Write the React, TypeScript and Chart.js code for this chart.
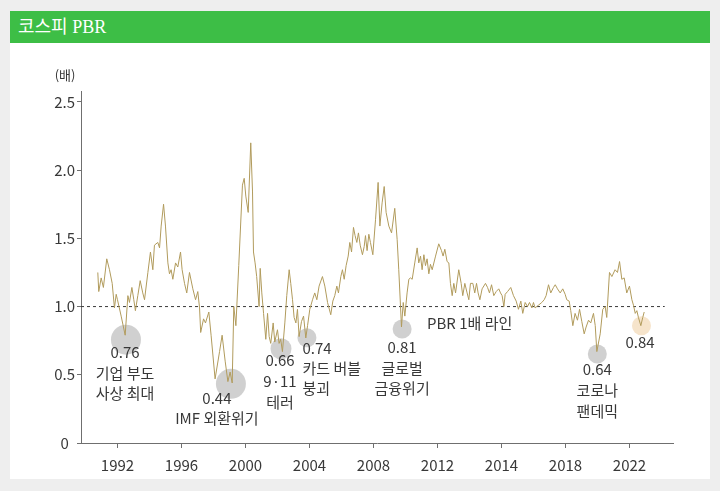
import React, { useEffect, useRef } from "react";
import { Chart, registerables } from "chart.js";

Chart.register(...registerables);

// ---- data (x in axis-years as laid out on the chart's time axis) ----
const years = [
  1990.77, 1990.83, 1990.98, 1991.12, 1991.33, 1991.5, 1991.67, 1991.81, 1991.92, 1992.0,
  1992.23, 1992.48, 1992.65, 1992.75, 1992.9, 1993.02, 1993.12, 1993.27, 1993.42, 1993.58,
  1993.69, 1993.9, 1994.06, 1994.21, 1994.31, 1994.52, 1994.63, 1994.73, 1994.88, 1995.0,
  1995.15, 1995.25, 1995.35, 1995.46, 1995.63, 1995.77, 1995.94, 1996.04, 1996.19, 1996.33,
  1996.5, 1996.71, 1996.88, 1997.02, 1997.13, 1997.2, 1997.38, 1997.5, 1997.71, 1997.85,
  1998.1, 1998.38, 1998.54, 1998.73, 1998.9, 1999.04, 1999.17, 1999.27, 1999.4, 1999.58,
  1999.81, 1999.92, 2000.02, 2000.17, 2000.33, 2000.44, 2000.5, 2000.6, 2000.7, 2000.85,
  2000.92, 2001.02, 2001.13, 2001.27, 2001.38, 2001.48, 2001.58, 2001.73, 2001.83, 2002.0,
  2002.1, 2002.2, 2002.31, 2002.46, 2002.58, 2002.73, 2002.83, 2002.94, 2003.04, 2003.15,
  2003.25, 2003.35, 2003.5, 2003.63, 2003.77, 2003.88, 2004.02, 2004.19, 2004.33, 2004.46,
  2004.6, 2004.81, 2004.96, 2005.13, 2005.33, 2005.46, 2005.58, 2005.71, 2005.81, 2005.96,
  2006.06, 2006.17, 2006.29, 2006.42, 2006.52, 2006.63, 2006.75, 2006.85, 2006.96, 2007.06,
  2007.17, 2007.31, 2007.42, 2007.5, 2007.6, 2007.71, 2007.81, 2007.96, 2008.13, 2008.29,
  2008.4, 2008.54, 2008.67, 2008.79, 2008.96, 2009.13, 2009.33, 2009.48, 2009.58, 2009.69,
  2009.75, 2009.86, 2009.96, 2010.1, 2010.21, 2010.31, 2010.42, 2010.58, 2010.73, 2010.83,
  2010.94, 2011.04, 2011.15, 2011.25, 2011.35, 2011.46, 2011.56, 2011.67, 2011.88, 2012.08,
  2012.25, 2012.35, 2012.46, 2012.6, 2012.71, 2012.81, 2012.92, 2013.02, 2013.13, 2013.33,
  2013.48, 2013.58, 2013.71, 2013.85, 2013.96, 2014.06, 2014.21, 2014.33, 2014.44, 2014.54,
  2014.65, 2014.79, 2015.0, 2015.13, 2015.25, 2015.38, 2015.52, 2015.67, 2015.83, 2015.94,
  2016.04, 2016.15, 2016.23, 2016.38, 2016.58, 2016.75, 2016.92, 2017.06, 2017.21, 2017.33,
  2017.48, 2017.63, 2017.75, 2017.9, 2018.0, 2018.1, 2018.31, 2018.52, 2018.67, 2018.79,
  2018.94, 2019.08, 2019.25, 2019.36, 2019.5, 2019.67, 2019.83, 2019.98, 2020.08, 2020.23,
  2020.33, 2020.46, 2020.6, 2020.75, 2020.88, 2021.02, 2021.17, 2021.29, 2021.44, 2021.58,
  2021.75, 2021.86, 2021.96, 2022.17, 2022.33, 2022.48, 2022.58, 2022.75, 2022.9, 2023.1,
  2023.25, 2023.38, 2023.52, 2023.67, 2023.83, 2024.0, 2024.15, 2024.25, 2024.36, 2024.46,
  2024.56, 2024.71, 2024.83, 2024.92,
];
const pbr = [
  1.25, 1.11, 1.21, 1.14, 1.35, 1.27, 1.17, 0.99, 1.09, 1.05,
  0.93, 0.79, 1.08, 1.03, 1.14, 1.05, 0.97, 1.08, 1.19, 1.1,
  1.05, 1.25, 1.4, 1.27, 1.45, 1.47, 1.43, 1.59, 1.75, 1.59,
  1.32, 1.24, 1.27, 1.2, 1.32, 1.29, 1.4, 1.27, 1.17, 1.1,
  1.25, 1.13, 1.05, 1.11, 0.99, 0.81, 0.91, 0.88, 0.96, 0.79,
  0.47, 0.67, 0.79, 0.6, 0.45, 0.52, 0.44, 1.0, 0.86, 1.3,
  1.89, 1.94, 1.81, 1.69, 2.2, 1.84, 1.4, 1.32, 1.22, 1.0,
  1.28, 1.1, 0.95, 0.76, 0.95, 0.78, 0.73, 0.88, 0.74, 0.83,
  0.73, 0.76, 0.67, 0.88, 1.08, 1.27, 1.17, 1.05, 0.92, 0.88,
  0.98, 0.78, 0.89, 0.93, 0.77, 0.86, 0.98, 1.05, 1.1, 1.05,
  1.15, 1.22, 1.15, 1.03, 0.94, 1.04, 1.08, 1.15, 1.1, 1.22,
  1.27, 1.2, 1.3, 1.37, 1.47, 1.4, 1.58, 1.52, 1.47, 1.54,
  1.45, 1.38, 1.44, 1.52, 1.41, 1.53, 1.47, 1.38, 1.64, 1.91,
  1.59, 1.76, 1.88, 1.69, 1.59, 1.54, 1.72, 1.49, 1.27, 1.0,
  0.85, 1.03, 0.93, 1.1, 1.2, 1.21, 1.2, 1.32, 1.43, 1.32,
  1.37, 1.27, 1.38, 1.3, 1.35, 1.24, 1.31, 1.27, 1.37, 1.46,
  1.41, 1.37, 1.42, 1.33, 1.32, 1.17, 1.08, 1.17, 1.1, 1.27,
  1.17, 1.08, 1.17, 1.1, 1.05, 1.17, 1.17, 1.1, 1.17, 1.1,
  1.05, 1.13, 1.17, 1.14, 1.1, 1.16, 1.08, 1.11, 1.13, 1.1,
  1.08, 1.0, 1.09, 1.11, 1.14, 1.08, 1.04, 0.98, 1.04, 0.95,
  1.03, 1.0, 1.03, 0.99, 1.03, 0.99, 1.01, 1.03, 1.05, 1.08,
  1.16, 1.1, 1.14, 1.16, 1.13, 1.1, 1.13, 1.09, 1.05, 1.04,
  0.97, 0.86, 0.95, 0.9, 0.98, 0.89, 0.8, 0.85, 0.9, 0.88,
  0.95, 0.86, 0.67, 0.8, 0.98, 1.0, 0.92, 1.25, 1.22, 1.27,
  1.25, 1.33, 1.2, 1.21, 1.1, 1.15, 1.05, 1.01, 0.95, 0.97,
  0.92, 0.86, 0.92, 0.96,
];

const tickYears = [1992, 1996, 2000, 2004, 2008, 2012, 2016, 2020, 2024];
const tickLabels = ["1992", "1996", "2000", "2004", "2008", "2012", "2014", "2018", "2022"];

// annotation circles (x in axis-years, y at circle centre) and their texts
const annotYears = [1992.53, 1999.09, 2002.22, 2003.84, 2009.79, 2021.99, 2024.75];
const annotCircleY = [0.757, 0.434, 0.691, 0.772, 0.836, 0.652, 0.86];
const annotTexts = [
  ["0.76", "기업 부도", "사상 최대"],
  ["0.44", "IMF 외환위기"],
  ["0.66", "9·11", "테러"],
  ["0.74", "카드 버블", "붕괴"],
  ["0.81", "글로벌", "금융위기"],
  ["0.64", "코로나", "팬데믹"],
  ["0.84"],
];

const refValue = 1.0;
const refLineX = [1989.72, 2026.2];
const refLabel = "PBR 1배 라인";
const refLabelYear = 2011.34;
const unitLabel = "(배)";
const title = "코스피 PBR";

// ---- styles ----
const FONT = "'Noto Sans CJK KR', 'Noto Sans', sans-serif";
const LINE_COLOR = "#b19b5c";
const AXIS_COLOR = "#6f6f6f";
const TEXT_COLOR = "#383838";
const circleRadii = [15, 15, 10.5, 9.5, 9.5, 9.5, 9.5];
const circleColors = [
  "rgba(190,190,190,0.72)",
  "rgba(190,190,190,0.72)",
  "rgba(190,190,190,0.72)",
  "rgba(190,190,190,0.72)",
  "rgba(190,190,190,0.72)",
  "rgba(190,190,190,0.72)",
  "rgba(238,205,160,0.55)",
];
// text offsets relative to circle centre (px)
const textStyle = [
  { dx: -1, dy: 13, gap: 20.5, align: "center" },
  { dx: -14, dy: 15, gap: 20, align: "center" },
  { dx: -1, dy: 12, gap: 21, align: "center" },
  { dx: -4.5, dy: 11, gap: 20, align: "left" },
  { dx: 0, dy: 18.5, gap: 20.5, align: "center" },
  { dx: 0, dy: 15, gap: 21, align: "center" },
  { dx: -1.5, dy: 17, gap: 20, align: "center" },
];

const annotationPlugin = {
  id: "annotText",
  afterDatasetsDraw(chart: any) {
    const { ctx, scales, chartArea } = chart;
    const xs = scales.x;
    const ys = scales.y;
    ctx.save();
    ctx.fillStyle = TEXT_COLOR;
    ctx.textBaseline = "middle";
    ctx.font = `15px ${FONT}`;
    annotTexts.forEach((lines, i) => {
      const cx = xs.getPixelForValue(annotYears[i]);
      const cy = ys.getPixelForValue(annotCircleY[i]);
      const st = textStyle[i];
      ctx.textAlign = st.align;
      lines.forEach((t, j) => {
        ctx.fillText(t, cx + st.dx, cy + st.dy + j * st.gap);
      });
    });
    // reference line label
    ctx.textAlign = "left";
    ctx.fillText(refLabel, xs.getPixelForValue(refLabelYear), ys.getPixelForValue(refValue) + 17);
    // unit label
    ctx.font = `13px ${FONT}`;
    ctx.textAlign = "center";
    ctx.fillText(unitLabel, chartArea.left - 16, chartArea.top - 16);
    ctx.restore();
  },
};

function PbrChart() {
  const ref = useRef<HTMLCanvasElement | null>(null);
  useEffect(() => {
    if (!ref.current) return;
    Chart.defaults.font.family = FONT;
    const chart = new Chart(ref.current, {
      type: "line",
      data: {
        datasets: [
          {
            type: "line",
            data: years.map((x, i) => ({ x, y: pbr[i] })),
            borderColor: LINE_COLOR,
            borderWidth: 1,
            pointRadius: 0,
            tension: 0,
            fill: false,
          },
          {
            type: "scatter",
            data: annotYears.map((x, i) => ({ x, y: annotCircleY[i] })),
            pointRadius: circleRadii,
            backgroundColor: circleColors,
            borderWidth: 0,
            borderColor: "transparent",
          },
          {
            type: "line",
            data: refLineX.map((x) => ({ x, y: refValue })),
            borderColor: "#3a3a3a",
            borderWidth: 1,
            borderDash: [3, 3],
            pointRadius: 0,
            fill: false,
          },
        ] as any,
      },
      options: {
        animation: false,
        responsive: false,
        maintainAspectRatio: false,
        events: [],
        layout: { padding: { left: 0, right: 37, top: 48, bottom: 0 } },
        plugins: { legend: { display: false }, tooltip: { enabled: false } },
        scales: {
          x: {
            type: "linear",
            min: 1989.72,
            max: 2026.72,
            afterBuildTicks: (s: any) => {
              s.ticks = tickYears.map((v) => ({ value: v }));
            },
            afterFit: (s: any) => {
              s.height = 36;
            },
            ticks: {
              callback: (v: any) => tickLabels[tickYears.indexOf(v)],
              color: TEXT_COLOR,
              font: { size: 15, family: FONT },
              padding: 8,
              maxRotation: 0,
              autoSkip: false,
            },
            grid: { drawOnChartArea: false, drawTicks: true, tickLength: 5, color: AXIS_COLOR },
            border: { display: true, color: AXIS_COLOR, width: 1 },
          },
          y: {
            type: "linear",
            min: 0,
            max: 2.58,
            afterFit: (s: any) => {
              s.width = 71;
            },
            ticks: {
              stepSize: 0.5,
              includeBounds: false,
              callback: (v: any) => (v === 0 ? "0" : Number(v).toFixed(1)),
              color: TEXT_COLOR,
              font: { size: 15, family: FONT },
              crossAlign: "center",
              padding: 2,
            },
            grid: { drawOnChartArea: false, drawTicks: true, tickLength: 4, color: AXIS_COLOR },
            border: { display: true, color: AXIS_COLOR, width: 1 },
          },
        },
      } as any,
      plugins: [annotationPlugin as any],
    });
    return () => chart.destroy();
  }, []);
  return <canvas ref={ref} width={700} height={436} style={{ display: "block", width: 700, height: 436 }} />;
}

export default function App() {
  return (
    <div style={{ position: "absolute", left: 0, top: 0, width: 720, height: 491, background: "#eeeeee", overflow: "hidden" }}>
      <div style={{ position: "absolute", left: 10, top: 11, width: 700, height: 468, background: "#ffffff" }}>
        <div
          style={{
            height: 32,
            background: "#3dbe46",
            color: "#ffffff",
            fontFamily: "'Liberation Serif', 'DejaVu Serif', 'Noto Sans CJK KR', serif",
            fontSize: 18,
            lineHeight: "32px",
            paddingLeft: 8,
          }}
        >
          {title}
        </div>
        <PbrChart />
      </div>
    </div>
  );
}
